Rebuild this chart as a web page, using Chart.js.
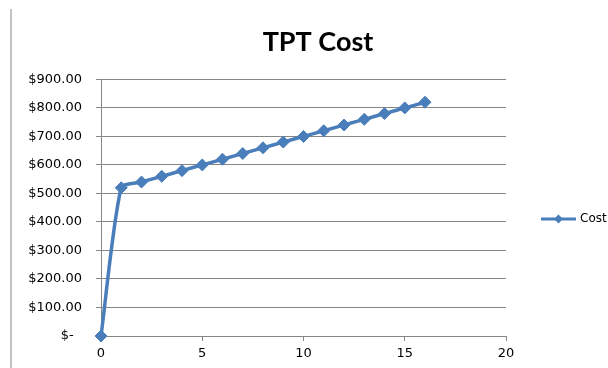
<!DOCTYPE html>
<html>
<head>
<meta charset="utf-8">
<script src="https://cdn.jsdelivr.net/npm/chart.js@4/dist/chart.umd.min.js"></script>
<style>
  html, body { margin: 0; padding: 0; background: #fff; }
  #wrap { width: 608px; height: 368px; }
</style>
</head>
<body>
<div id="wrap"><canvas id="myChart" width="608" height="368"></canvas></div>
<script>
// periods and cost per period
const periods = [0, 1, 2, 3, 4, 5, 6, 7, 8, 9, 10, 11, 12, 13, 14, 15, 16];
const costs = [0, 520, 540, 560, 580, 600, 620, 640, 660, 680, 700, 720, 740, 760, 780, 800, 820];
const yTickLabels = ['$-  ', '$100.00', '$200.00', '$300.00', '$400.00', '$500.00', '$600.00', '$700.00', '$800.00', '$900.00'];
const seriesName = 'Cost';
const chartTitle = 'TPT Cost';

const blue = '#4a7ebb';
const gray = '#868686';
const fontFamily = 'DejaVu Sans, Verdana, sans-serif';
const labelFont = { family: fontFamily, size: 13 };

const points = periods.map((p, i) => ({ x: p, y: costs[i] }));

// left frame line and the line+marker legend on the right
const extras = {
  id: 'extras',
  afterDraw(chart) {
    const ctx = chart.ctx;
    ctx.save();
    ctx.strokeStyle = '#c3c3c3';
    ctx.lineWidth = 2;
    ctx.beginPath();
    ctx.moveTo(11, 9);
    ctx.lineTo(11, 368);
    ctx.stroke();

    const ly = 219;
    ctx.strokeStyle = blue;
    ctx.lineWidth = 3;
    ctx.beginPath();
    ctx.moveTo(541, ly);
    ctx.lineTo(576, ly);
    ctx.stroke();
    ctx.fillStyle = blue;
    ctx.beginPath();
    ctx.moveTo(558.5 - 4.5, ly);
    ctx.lineTo(558.5, ly - 4.5);
    ctx.lineTo(558.5 + 4.5, ly);
    ctx.lineTo(558.5, ly + 4.5);
    ctx.closePath();
    ctx.fill();

    ctx.fillStyle = '#000';
    ctx.font = '12px ' + fontFamily;
    ctx.textAlign = 'left';
    ctx.textBaseline = 'middle';
    ctx.fillText(chart.data.datasets[0].label, 580, ly);
    ctx.restore();
  }
};

const chart = new Chart('myChart', {
  type: 'scatter',
  data: {
    datasets: [{
      label: seriesName,
      data: points,
      showLine: true,
      clip: false,
      borderColor: blue,
      backgroundColor: blue,
      borderWidth: 3.5,
      tension: 0.22,
      pointStyle: 'rectRot',
      pointRadius: 6,
      pointBorderWidth: 1,
      pointBorderColor: blue,
      pointBackgroundColor: blue
    }]
  },
  options: {
    responsive: false,
    animation: false,
    layout: { padding: { left: 28, right: 0, top: 0, bottom: 0 } },
    plugins: {
      legend: { display: false },
      tooltip: { enabled: false },
      title: {
        display: true,
        text: chartTitle,
        color: '#000',
        font: { family: 'Lato, Calibri, sans-serif', size: 27, weight: 'bold' },
        padding: { top: 26, bottom: 21 }
      }
    },
    scales: {
      x: {
        type: 'linear',
        min: 0,
        max: 20,
        ticks: {
          stepSize: 5,
          color: '#000',
          font: labelFont,
          padding: 5,
          maxRotation: 0
        },
        grid: {
          drawOnChartArea: false,
          drawTicks: true,
          tickLength: 5,
          color: gray
        },
        border: { color: gray, width: 1 },
        afterFit(scale) { scale.height = 32; }
      },
      y: {
        min: 0,
        max: 900,
        ticks: {
          stepSize: 100,
          color: '#000',
          font: labelFont,
          padding: 14,
          callback: (v) => yTickLabels[Math.round(v / 100)]
        },
        grid: {
          color: gray,
          tickLength: 5,
          drawTicks: true
        },
        border: { color: gray, width: 1 },
        afterFit(scale) { scale.width = 73; }
      },
      // empty right-hand strip that holds the legend
      side: {
        position: 'right',
        min: 0,
        max: 1,
        ticks: { display: false },
        grid: { display: false, drawTicks: false },
        border: { display: false },
        afterFit(scale) { scale.width = 102; }
      }
    }
  },
  plugins: [extras]
});
</script>
</body>
</html>
